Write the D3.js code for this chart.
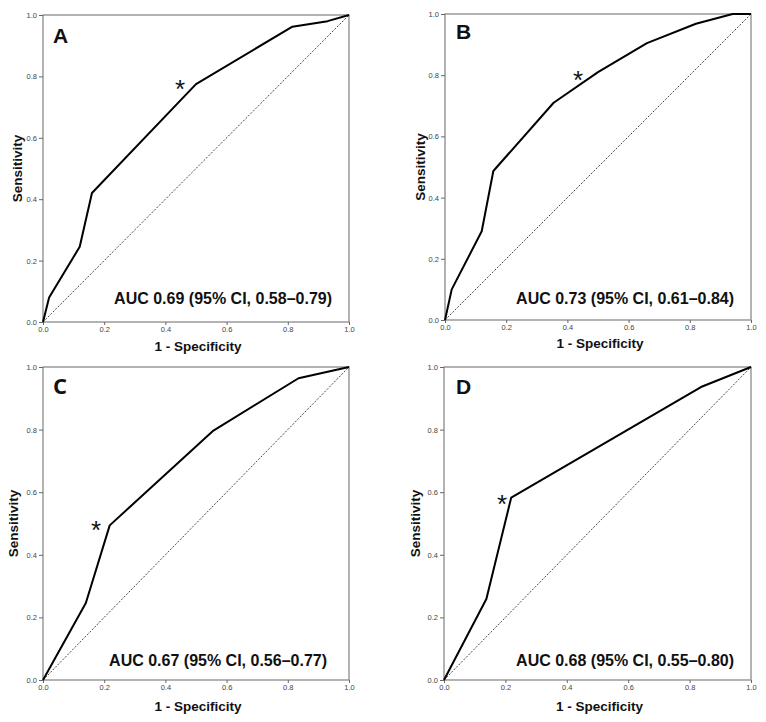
<!DOCTYPE html>
<html>
<head>
<meta charset="utf-8">
<script src="https://cdn.jsdelivr.net/npm/d3@7"></script>
<style>
  body { margin: 0; background: #fff; }
  .chart text { font-family: "Liberation Sans", Arial, sans-serif; }
  .tick text { fill: #444; font-size: 7.5px; }
  .tick line { stroke: #666; }
  .axis-text { font-weight: bold; font-size: 13.5px; fill: #111; text-anchor: middle; }
  .auc-text { font-weight: bold; font-size: 16px; fill: #111; text-anchor: end; }
  .panel-letter { font-weight: bold; font-size: 21px; fill: #111; }
</style>
</head>
<body>
<div class="chart"></div>
<script>
// Panel letters and AUC labels
var panelNames = ["A", "B", "C", "D"];
var aucLabels = [
    "AUC 0.69 (95% CI, 0.58\u20130.79)",
    "AUC 0.73 (95% CI, 0.61\u20130.84)",
    "AUC 0.67 (95% CI, 0.56\u20130.77)",
    "AUC 0.68 (95% CI, 0.55\u20130.80)"
];

// ROC curve points, [1 - specificity, sensitivity]
var rocA = [[0, 0], [0.02, 0.08], [0.12, 0.245], [0.16, 0.42], [0.50, 0.775], [0.815, 0.962], [0.93, 0.98], [1, 1]];
var rocB = [[0, 0], [0.022, 0.10], [0.12, 0.29], [0.158, 0.487], [0.355, 0.71], [0.50, 0.81], [0.66, 0.905], [0.82, 0.968], [0.94, 1], [1, 1]];
var rocC = [[0, 0], [0.14, 0.246], [0.218, 0.494], [0.557, 0.797], [0.835, 0.964], [1, 1]];
var rocD = [[0, 0], [0.138, 0.259], [0.219, 0.583], [0.837, 0.936], [1, 1]];
var rocCurves = [rocA, rocB, rocC, rocD];

// Asterisk (cut-off) marker positions, in data units
var cutoffMarks = [[0.448, 0.779], [0.435, 0.804], [0.173, 0.498], [0.189, 0.581]];

var tickValues = [0, 0.2, 0.4, 0.6, 0.8, 1.0];

// Panel frames on the page
var frames = [
    { left: 43, top: 15, width: 306, height: 307, aucRight: 17, aucBottom: 18, letterX: 10, letterY: 28, yLab: 26, xLab: 29, font: null },
    { left: 445, top: 14, width: 306, height: 306, aucRight: 17, aucBottom: 16, letterX: 11, letterY: 25, yLab: 25, xLab: 28, font: null },
    { left: 43, top: 367, width: 306, height: 313, aucRight: 22, aucBottom: 14, letterX: 10, letterY: 27, yLab: 30, xLab: 31, font: "'Open Sans', sans-serif" },
    { left: 444, top: 367, width: 307, height: 313, aucRight: 17, aucBottom: 14, letterX: 12, letterY: 27, yLab: 29, xLab: 31, font: null }
];

var svgWidth = 766;
var svgHeight = 722;

var svg = d3.select(".chart")
    .append("svg")
    .attr("width", svgWidth)
    .attr("height", svgHeight);

frames.forEach(function(f, i) {
    var chart = svg.append("g")
        .attr("transform", `translate(${f.left}, ${f.top})`);

    var xScale = d3.scaleLinear().domain([0, 1]).range([0, f.width]);
    var yScale = d3.scaleLinear().domain([0, 1]).range([f.height, 0]);

    // frame box
    chart.append("rect")
        .attr("width", f.width)
        .attr("height", f.height)
        .attr("fill", "none")
        .attr("stroke", "#808080")
        .attr("stroke-width", 1.2);

    // axes
    var bottomAxis = d3.axisBottom(xScale).tickValues(tickValues)
        .tickFormat(d3.format(".1f")).tickSize(3).tickPadding(2);
    var leftAxis = d3.axisLeft(yScale).tickValues(tickValues)
        .tickFormat(d3.format(".1f")).tickSize(4).tickPadding(2);

    chart.append("g")
        .attr("transform", `translate(0, ${f.height})`)
        .call(bottomAxis)
        .call(function(g) { g.select(".domain").remove(); });

    chart.append("g")
        .call(leftAxis)
        .call(function(g) { g.select(".domain").remove(); });

    // reference diagonal
    chart.append("line")
        .attr("x1", xScale(0)).attr("y1", yScale(0))
        .attr("x2", xScale(1)).attr("y2", yScale(1))
        .attr("stroke", "#333")
        .attr("stroke-width", 0.9)
        .attr("stroke-dasharray", "2,1.5");

    // ROC curve
    var line = d3.line()
        .x(function(d) { return xScale(d[0]); })
        .y(function(d) { return yScale(d[1]); });

    chart.append("path")
        .datum(rocCurves[i])
        .attr("d", line)
        .attr("fill", "none")
        .attr("stroke", "#000")
        .attr("stroke-width", 2)
        .attr("stroke-linejoin", "round");

    // cut-off asterisk
    chart.append("text")
        .attr("x", xScale(cutoffMarks[i][0]))
        .attr("y", yScale(cutoffMarks[i][1]))
        .attr("dy", "0.57em")
        .style("text-anchor", "middle")
        .style("font-size", "26px")
        .style("fill", "#111")
        .text("*");

    // panel letter
    var letter = chart.append("text")
        .attr("class", "panel-letter")
        .attr("x", f.letterX)
        .attr("y", f.letterY)
        .text(panelNames[i]);
    if (f.font) letter.style("font-family", f.font).style("font-size", "22px");

    // AUC label
    chart.append("text")
        .attr("class", "auc-text")
        .attr("x", f.width - f.aucRight)
        .attr("y", f.height - f.aucBottom)
        .text(aucLabels[i]);

    // y-axis label
    chart.append("text")
        .attr("class", "axis-text")
        .attr("transform", "rotate(-90)")
        .attr("x", -f.height / 2)
        .attr("y", -f.yLab)
        .attr("dy", "0.35em")
        .text("Sensitivity");

    // x-axis label
    chart.append("text")
        .attr("class", "axis-text")
        .attr("x", f.width / 2 + 2)
        .attr("y", f.height + f.xLab)
        .text("1 - Specificity");
});
</script>
</body>
</html>
